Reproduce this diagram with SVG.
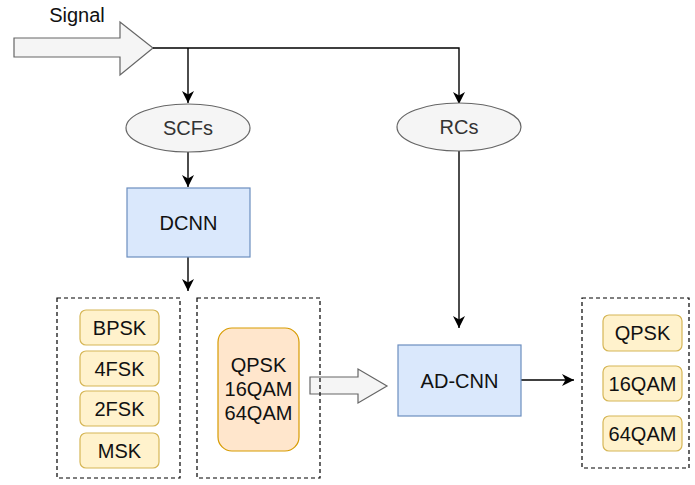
<svg xmlns="http://www.w3.org/2000/svg" width="695" height="485" viewBox="0 0 695 485">
<style>
text{font-family:"Liberation Sans",Arial,sans-serif;font-size:20px;fill:#111;text-anchor:middle;dominant-baseline:central}
.ell{fill:#f5f5f5;stroke:#666;stroke-width:1.2}
.ell-t{fill:#333}
.blue{fill:#dae8fc;stroke:#6c8ebf;stroke-width:1.2}
.pill{fill:#fff2cc;stroke:#d6b656;stroke-width:1.2}
.orange{fill:#ffe6cc;stroke:#d79b00;stroke-width:1.2}
.dash{fill:none;stroke:#000;stroke-width:1.2;stroke-dasharray:4 3}
.hollow{fill:#f5f5f5;stroke:#666;stroke-width:1.2}
.line{fill:none;stroke:#000;stroke-width:1.4}
</style>
<defs>
<marker id="ah" markerWidth="14" markerHeight="14" refX="12" refY="6" orient="auto" markerUnits="userSpaceOnUse">
<path d="M0,0 L12,6 L0,12 L3.5,6 Z" fill="#000"/>
</marker>
</defs>
<g id="signal">
<text x="77" y="15">Signal</text>
<path class="hollow" d="M14,38 H120 V22 L153,48 L120,75 V57 H14 Z"/>
</g>
<g id="connectors">
<path class="line" d="M153,48 H459 V104" marker-end="url(#ah)"/>
<path class="line" d="M188,48 V103" marker-end="url(#ah)"/>
<path class="line" d="M188,151 V187" marker-end="url(#ah)"/>
<path class="line" d="M188,257 V291" marker-end="url(#ah)"/>
<path class="line" d="M459,151 V328" marker-end="url(#ah)"/>
<path class="line" d="M521,380 H574" marker-end="url(#ah)"/>
<path class="hollow" d="M310,377 H358 V369 L387,386 L358,403 V394 H310 Z"/>
</g>
<g id="scfs">
<ellipse class="ell" cx="188" cy="128" rx="62" ry="24"/>
<text class="ell-t" x="188" y="128">SCFs</text>
</g>
<g id="rcs">
<ellipse class="ell" cx="459" cy="127" rx="62" ry="24"/>
<text class="ell-t" x="459" y="127">RCs</text>
</g>
<g id="dcnn">
<rect class="blue" x="127" y="188" width="123" height="69"/>
<text x="188.5" y="223">DCNN</text>
</g>
<g id="adcnn">
<rect class="blue" x="398" y="345" width="123" height="71"/>
<text x="459.5" y="381">AD-CNN</text>
</g>
<g id="group-left">
<rect class="dash" x="57" y="298" width="123" height="180"/>
<rect class="pill" x="80" y="310" width="79" height="35" rx="6"/>
<text x="119.5" y="328">BPSK</text>
<rect class="pill" x="80" y="351" width="79" height="35" rx="6"/>
<text x="119.5" y="369">4FSK</text>
<rect class="pill" x="80" y="391" width="79" height="35" rx="6"/>
<text x="119.5" y="409">2FSK</text>
<rect class="pill" x="80" y="433" width="79" height="35" rx="6"/>
<text x="119.5" y="451">MSK</text>
</g>
<g id="group-mid">
<rect class="dash" x="197" y="298" width="123" height="180"/>
<rect class="orange" x="218" y="328" width="81" height="123" rx="14"/>
<text x="258.5" y="365">QPSK</text>
<text x="258.5" y="389">16QAM</text>
<text x="258.5" y="413">64QAM</text>
</g>
<g id="group-right">
<rect class="dash" x="582" y="298" width="107" height="170"/>
<rect class="pill" x="603" y="315" width="79" height="36" rx="6"/>
<text x="642.5" y="333">QPSK</text>
<rect class="pill" x="603" y="366" width="79" height="35" rx="6"/>
<text x="642.5" y="384">16QAM</text>
<rect class="pill" x="603" y="416" width="79" height="35" rx="6"/>
<text x="642.5" y="434">64QAM</text>
</g>
</svg>
